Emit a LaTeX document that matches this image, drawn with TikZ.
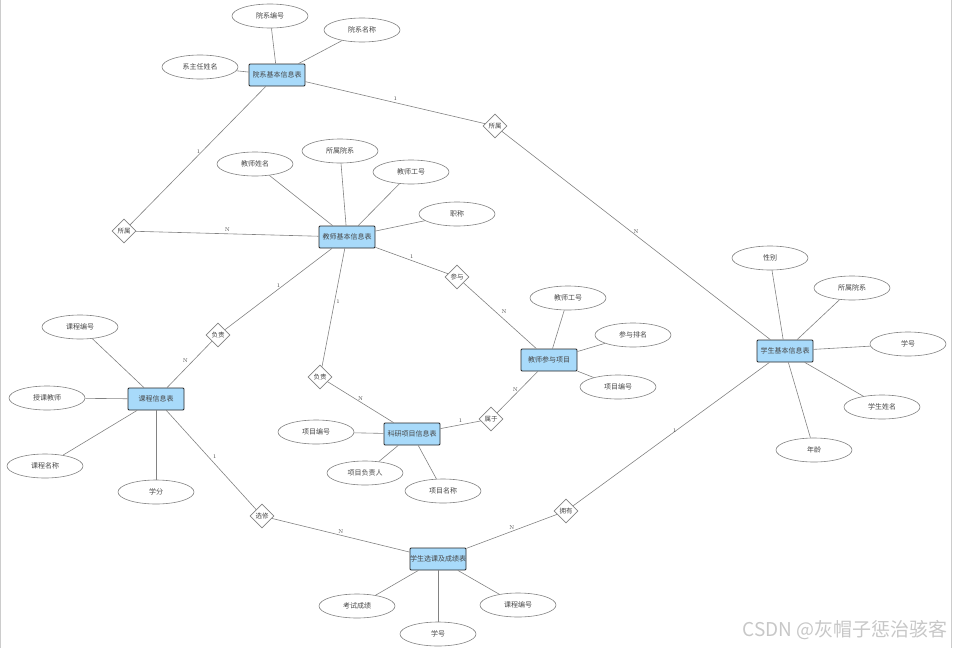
\documentclass[tikz,border=0pt]{standalone}
\usepackage{fontspec}
\newfontfamily\cjk{Noto Sans CJK SC}
\usepackage{tikz}
\usetikzlibrary{shapes.geometric}

\definecolor{entblue}{RGB}{168,218,250}
\definecolor{linegray}{RGB}{130,130,130}
\definecolor{txtgray}{RGB}{70,70,70}

\begin{document}
\begin{tikzpicture}[
      x=1pt, y=-1pt,
      entity/.style={rectangle, draw=black!85, line width=0.8pt, fill=entblue, rounded corners=1pt,
        minimum width=56pt, minimum height=22pt, inner sep=0pt, text=txtgray, font=\cjk\fontsize{7}{8}\selectfont},
      attr/.style={ellipse, draw=linegray, line width=0.6pt, minimum width=76pt, minimum height=24pt,
        inner sep=0pt, text=txtgray, font=\cjk\fontsize{7}{8}\selectfont},
      rel/.style={diamond, draw=linegray, line width=0.6pt, fill=white, minimum size=24pt, aspect=1,
        inner sep=0pt, text=txtgray, font=\cjk\fontsize{6.5}{7}\selectfont},
      conn/.style={draw=linegray, line width=0.6pt},
      card/.style={font=\fontsize{5.5}{6}\selectfont, text=txtgray, inner sep=1.5pt}
    ]
      \useasboundingbox (0,0) rectangle (953,648);
      \draw[black!20, line width=0.6pt] (0.5,0) -- (0.5,648);
      \draw[black!20, line width=0.6pt] (951,0) -- (951,648);

      % entities
      \node[entity] (yx) at (277,75) {院系基本信息表};
      \node[entity] (js) at (347,237) {教师基本信息表};
      \node[entity] (kc) at (156,399) {课程信息表};
      \node[entity] (ky) at (412,434) {科研项目信息表};
      \node[entity] (cy) at (549,360) {教师参与项目};
      \node[entity] (xs) at (785,351) {学生基本信息表};
      \node[entity] (xk) at (438,559) {学生选课及成绩表};

      % attributes
      \node[attr] (yxbh) at (270,16) {院系编号};
      \node[attr] (yxmc) at (362,30) {院系名称};
      \node[attr] (xzr) at (200,67) {系主任姓名};
      \node[attr] (jsyx) at (340,151) {所属院系};
      \node[attr] (jsxm) at (255,164) {教师姓名};
      \node[attr] (jsgh) at (411,172) {教师工号};
      \node[attr] (zc) at (457,214) {职称};
      \node[attr] (kcbh) at (80,327) {课程编号};
      \node[attr] (skjs) at (47,398) {授课教师};
      \node[attr] (kcmc) at (45,466) {课程名称};
      \node[attr] (xf) at (156,492) {学分};
      \node[attr] (xmbh) at (316,432) {项目编号};
      \node[attr] (xmfz) at (365,473) {项目负责人};
      \node[attr] (xmmc) at (443,491) {项目名称};
      \node[attr] (cygh) at (568,298) {教师工号};
      \node[attr] (cypm) at (633,335) {参与排名};
      \node[attr] (cybh) at (618,387) {项目编号};
      \node[attr] (xb) at (770,258) {性别};
      \node[attr] (xsyx) at (852,288) {所属院系};
      \node[attr] (xh) at (908,344) {学号};
      \node[attr] (xsxm) at (882,407) {学生姓名};
      \node[attr] (nl) at (814,450) {年龄};
      \node[attr] (kscj) at (357,606) {考试成绩};
      \node[attr] (xkxh) at (438,634) {学号};
      \node[attr] (xkbh) at (518,605) {课程编号};

      % relations
      \node[rel] (ss1) at (495,126) {所属};
      \node[rel] (ss2) at (124,231) {所属};
      \node[rel] (cyu) at (457,277) {参与};
      \node[rel] (fz1) at (218,335) {负责};
      \node[rel] (fz2) at (320,377) {负责};
      \node[rel] (sy) at (491,419) {属于};
      \node[rel] (xx) at (262,516) {选修};
      \node[rel] (yy) at (566,511) {拥有};

      % attribute links
      \foreach \e/\a in {yx/yxbh, yx/yxmc, yx/xzr, js/jsyx, js/jsxm, js/jsgh, js/zc,
                         kc/kcbh, kc/skjs, kc/kcmc, kc/xf, ky/xmbh, ky/xmfz, ky/xmmc,
                         cy/cygh, cy/cypm, cy/cybh, xs/xb, xs/xsyx, xs/xh, xs/xsxm, xs/nl,
                         xk/kscj, xk/xkxh, xk/xkbh}
        \draw[conn] (\e) -- (\a);

      % relation links
      \draw[conn] (yx) -- (ss1) node[card, midway, above] {1};
      \draw[conn] (ss1) -- (xs) node[card, midway, above] {N};
      \draw[conn] (yx) -- (ss2) node[card, pos=0.47, left] {1};
      \draw[conn] (ss2) -- (js) node[card, midway, above] {N};
      \draw[conn] (js) -- (cyu) node[card, midway, above] {1};
      \draw[conn] (cyu) -- (cy) node[card, midway, above right] {N};
      \draw[conn] (js) -- (fz1) node[card, midway, above] {1};
      \draw[conn] (fz1) -- (kc) node[card, midway, above left] {N};
      \draw[conn] (js) -- (fz2) node[card, pos=0.45, right] {1};
      \draw[conn] (fz2) -- (ky) node[card, midway, above] {N};
      \draw[conn] (ky) -- (sy) node[card, midway, above] {1};
      \draw[conn] (sy) -- (cy) node[card, pos=0.55, left=0pt] {N};
      \draw[conn] (kc) -- (xx) node[card, midway, above right] {1};
      \draw[conn] (xx) -- (xk) node[card, midway, above] {N};
      \draw[conn] (xs) -- (yy) node[card, midway, above right] {1};
      \draw[conn] (yy) -- (xk) node[card, midway, above] {N};

      \node[text=black!22, font=\cjk\fontsize{19}{21}\selectfont, anchor=east, inner sep=0pt] (wm) at (948,630) {CSDN @灰帽子惩治骇客};
    \end{tikzpicture}
\end{document}
